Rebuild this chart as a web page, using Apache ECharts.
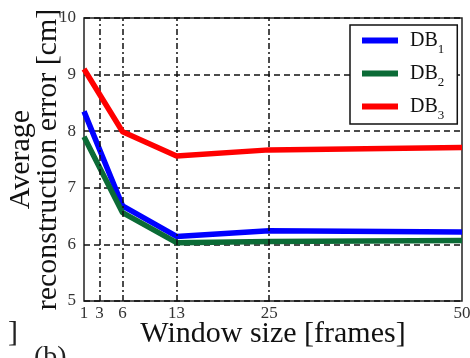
<!DOCTYPE html>
<html><head><meta charset="utf-8">
<script src="https://cdn.jsdelivr.net/npm/echarts@6/dist/echarts.min.js"></script>
<style>html,body{margin:0;padding:0;background:#fff}#c{width:470px;height:358px}</style>
</head><body><div id="c"></div>
<script>
const windowSizes = [1, 6, 13, 25, 50];
const xTicks = [1, 3, 6, 13, 25, 50];
const xGridValues = [3, 6, 13, 25];
const db1 = [8.35, 6.68, 6.14, 6.24, 6.22];
const db2 = [7.9, 6.56, 6.03, 6.05, 6.07];
const db3 = [9.1, 7.99, 7.56, 7.67, 7.71];
const seriesNames = ['DB1', 'DB2', 'DB3'];
const seriesColors = ['#0000ff', '#0b6b36', '#ff0000'];

const FONT = '"Liberation Serif", "DejaVu Serif", serif';
const chart = echarts.init(document.getElementById('c'), null, {renderer: 'canvas'});
const pair = (vals) => windowSizes.map((x, i) => [x, vals[i]]);
const allVals = [db1, db2, db3];

chart.setOption({
  animation: false,
  backgroundColor: '#fff',
  grid: {left: 84, right: 8, top: 18, bottom: 57, show: true, borderColor: '#222', borderWidth: 1.5, backgroundColor: 'transparent', outerBoundsMode: 'none', containLabel: false},
  legend: {
    left: 350, top: 25, orient: 'vertical',
    backgroundColor: '#fff', borderColor: '#111', borderWidth: 1.5, borderRadius: 0,
    padding: [0, 13, 2, 12], itemGap: 2,
    icon: 'rect', itemWidth: 36, itemHeight: 6,
    formatter: (n) => '{b|' + n.slice(0, 2) + '}{s|' + n.slice(2) + '}',
    textStyle: {
      color: '#111', fontFamily: FONT,
      rich: {
        b: {fontSize: 20, fontFamily: FONT, color: '#111', lineHeight: 22, padding: [0, 0, 0, 7]},
        s: {fontSize: 13, fontFamily: FONT, color: '#111', lineHeight: 22, padding: [18, 0, 0, 0]}
      }
    },
    data: seriesNames
  },
  xAxis: {
    type: 'value', min: 1, max: 50,
    name: 'Window size [frames]', nameLocation: 'middle', nameGap: 18, nameMoveOverlap: false,
    nameTextStyle: {fontFamily: FONT, fontSize: 30, color: '#111'},
    axisLine: {show: false}, axisTick: {show: false, customValues: xTicks},
    axisLabel: {customValues: xTicks, fontFamily: FONT, fontSize: 17, color: '#333', margin: 4},
    splitLine: {show: false}
  },
  yAxis: {
    type: 'value', min: 5, max: 10, interval: 1,
    name: 'Average\nreconstruction error [cm]', nameLocation: 'middle', nameGap: 22, nameRotate: 90, nameMoveOverlap: false,
    nameTextStyle: {fontFamily: FONT, fontSize: 30, color: '#111', lineHeight: 27},
    axisLine: {show: false}, axisTick: {show: false},
    axisLabel: {fontFamily: FONT, fontSize: 17, color: '#333', margin: 8},
    splitLine: {show: true, lineStyle: {color: '#111', width: 1.5, type: [6, 4]}}
  },
  series: [
    {
      name: 'grid', type: 'line', data: [], silent: true,
      markLine: {
        silent: true, symbol: 'none', label: {show: false},
        lineStyle: {color: '#111', width: 1.5, type: [6, 3, 2, 3]},
        data: xGridValues.map(v => ({xAxis: v}))
      }
    }
  ].concat(seriesNames.map((n, i) => ({
    name: n, type: 'line', data: pair(allVals[i]), symbol: 'none',
    lineStyle: {color: seriesColors[i], width: 5.5}, itemStyle: {color: seriesColors[i]}, z: 3 + i
  }))),
  graphic: [
    {type: 'text', left: 8, top: 318, style: {text: ']', fontFamily: FONT, fontSize: 30, fill: '#222'}},
    {type: 'text', left: 34, top: 344, style: {text: '(b)', fontFamily: FONT, fontSize: 28, fill: '#222'}}
  ]
});
</script></body></html>
